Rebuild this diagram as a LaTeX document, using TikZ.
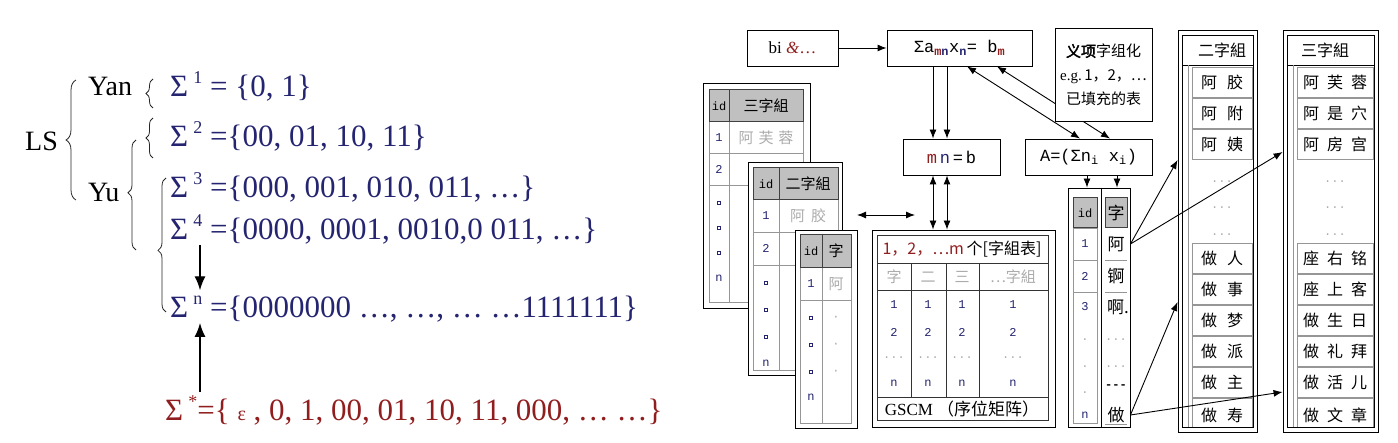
\documentclass[tikz,border=0pt]{standalone}
\usepackage{fontspec}
\setmainfont{Liberation Serif}
\newfontfamily\cjk{Noto Sans CJK SC}
\newfontfamily\cjkb[FakeBold=2.5]{Noto Sans CJK SC}
\newfontfamily\mono{Liberation Mono}
\usetikzlibrary{arrows.meta,decorations.pathreplacing,calc}
\definecolor{navy}{RGB}{36,36,112}
\definecolor{dred}{RGB}{145,30,30}
\definecolor{hdr}{RGB}{192,192,192}
\definecolor{cellb}{RGB}{150,150,150}
\definecolor{faint}{RGB}{172,172,172}
\newcommand\supx[1]{\raisebox{0.42em}{\fontsize{18}{18}\selectfont #1}}
\newcommand\sqmark[2]{\draw[navy,line width=0.8pt] (#1-1.8,#2-1.8) rectangle (#1+1.8,#2+1.8);}
\begin{document}
\begin{tikzpicture}[x=1pt,y=-1pt,
  big/.style={font=\fontsize{28}{30}\selectfont, inner sep=0pt, anchor=base west},
  sig/.style={font=\fontsize{31}{33}\selectfont, inner sep=0pt, anchor=base west},
  bigarr/.style={-{Latex[length=14pt,width=11pt]}, line width=1.4pt},
  brc/.style={decorate, line width=0.8pt, draw=black!85},
  box/.style={draw, line width=0.9pt, fill=white, inner sep=0pt},
  arr/.style={-{Latex[length=9pt,width=7pt]}, line width=0.9pt},
  darr/.style={{Latex[length=9pt,width=7pt]}-{Latex[length=9pt,width=7pt]}, line width=0.9pt},
  eq/.style={font=\mono\fontsize{17}{19}\selectfont},
  tb/.style={font=\mono\fontsize{12}{14}\selectfont, inner sep=0pt},
  cj/.style={font=\cjk\fontsize{15}{17}\selectfont, inner sep=0pt},
  cl/.style={font=\cjk\fontsize{16}{18}\selectfont, inner sep=0pt},
  gl/.style={draw=cellb, line width=0.8pt},
  hd/.style={fill=hdr, draw=black!75, line width=1pt},
]
\useasboundingbox (0,0) rectangle (1398,443);

% ---------------- left part ----------------
\node[big] (ls) at (25,151) {LS};
\node[big] (yan) at (88,96) {Yan};
\node[big] (yu) at (88,202) {Yu};
\node[sig,text=navy] (s1) at (170,97) {Σ\,\supx{1} = \{0, 1\}};
\node[sig,text=navy] (s2) at (170,147) {Σ\,\supx{2} =\{00, 01, 10, 11\}};
\node[sig,text=navy] (s3) at (170,198) {Σ\,\supx{3} =\{000, 001, 010, 011, …\}};
\node[sig,text=navy] (s4) at (170,240) {Σ\,\supx{4} =\{0000, 0001, 0010,0 011, …\}};
\node[sig,text=navy] (sn) at (170,318) {Σ\,\supx{n} =\{0000000 …, …, … …1111111\}};
\node[sig,text=dred] (ss) at (165,421) {Σ\,\supx{*}=\{ {\fontsize{20}{20}\selectfont ε} , 0, 1, 00, 01, 10, 11, 000, … …\}};

\draw[brc, decoration={brace,amplitude=10pt}] (76,200) -- (76,80);
\draw[brc, decoration={brace,amplitude=7pt}] (153,108) -- (153,79);
\draw[brc, decoration={brace,amplitude=7pt}] (153,158) -- (153,118);
\draw[brc, decoration={brace,amplitude=8pt,aspect=0.52}] (136,250) -- (136,140);
\draw[brc, decoration={brace,amplitude=8pt,aspect=0.46}] (166,312) -- (166,178);

\coordinate (ax) at (200,0);
\draw[bigarr] (s4.south -| ax) -- ([yshift=6pt]sn.north -| ax);
\draw[bigarr] ([yshift=4pt]ss.north -| ax) -- (sn.south -| ax);

% ---------------- right part ----------------
\node[box, minimum width=91, minimum height=36, font=\fontsize{17}{19}\selectfont] (bi) at (792.5,48) {bi {\color{dred}\textit{\&}…}};
\node[box, minimum width=145, minimum height=36, eq] (sigma) at (959.5,48)
  {Σa\textsubscript{\textbf{\color{dred}m\color{navy}n}}x\textsubscript{\textbf{\color{navy}n}}= b\textsubscript{\textbf{\color{dred}m}}};
\node[box, minimum width=97, minimum height=36, eq] (mn) at (951.5,157) {{\color{dred}m}\,{\color{navy}n}\,=\,b};
\node[box, minimum width=127, minimum height=36, eq] (A) at (1088.5,157) {A=(Σn\textsubscript{i} x\textsubscript{i})};
\draw[arr] (bi.east) -- (sigma.west);

\coordinate (q1) at (967,0); \coordinate (q2) at (1080,0);
\coordinate (r1) at (997,0); \coordinate (r2) at (1110,0);
\draw[darr] (sigma.south -| q1) -- (A.north -| q2);
\draw[darr] (sigma.south -| r1) -- (A.north -| r2);
\node[box, minimum width=97, minimum height=93, align=center, font=\cjk\fontsize{15}{24}\selectfont] (yx) at (1103.5,75)
  {{\cjkb 义项}字组化\\{\rmfamily e.g.}\,1，2，…\\已填充的表};

\coordinate (p1) at (933,0); \coordinate (p2) at (947,0);
\draw[arr] (sigma.south -| p1) -- (mn.north -| p1);
\draw[arr] (sigma.south -| p2) -- (mn.north -| p2);

% table 1
\node[box, minimum width=107, minimum height=225] (t1) at (756.5,195.5) {};
\draw[gl] (709,90) rectangle (803,302);
\draw[hd] (709,90) rectangle (729,122); \draw[hd] (729,90) rectangle (803,122);
\draw[gl] (709,153) -- (803,153) (709,185) -- (803,185) (729,122) -- (729,302);
\node[tb] (t1id) at (719,106) {id};
\node[cj] (t1h) at (766,106) {三字組};
\node[tb,text=navy] (t1r1) at (719,138) {1};
\node[cj,text=faint] (t1c1) at (766,138) {阿\hspace{5pt}芙\hspace{5pt}蓉};
\node[tb,text=navy] (t1r2) at (719,169) {2};
\sqmark{719}{203} \sqmark{719}{228} \sqmark{719}{253}
\node[tb,text=navy] (t1rn) at (719,278) {n};

% table 2
\node[box, minimum width=94, minimum height=213] (t2) at (795,268.5) {};
\draw[gl] (753,168) rectangle (838,370);
\draw[hd] (753,168) rectangle (779,200); \draw[hd] (779,168) rectangle (838,200);
\draw[gl] (753,232) -- (838,232) (753,265) -- (838,265) (779,200) -- (779,370);
\node[tb] (t2id) at (766,184) {id};
\node[cj] (t2h) at (808,184) {二字組};
\node[tb,text=navy] (t2r1) at (766,216) {1};
\node[cj,text=faint] (t2c1) at (808,216) {阿\hspace{6pt}胶};
\node[tb,text=navy] (t2r2) at (766,248) {2};
\sqmark{766}{283} \sqmark{766}{310} \sqmark{766}{337}
\node[tb,text=navy] (t2rn) at (766,363) {n};

% table 3
\node[box, minimum width=62, minimum height=198] (t3) at (826,329) {};
\draw[gl] (800,235) rectangle (851,423);
\draw[hd] (800,235) rectangle (822,268); \draw[hd] (822,235) rectangle (851,268);
\draw[gl] (800,300) -- (851,300) (822,268) -- (822,423);
\node[tb] (t3id) at (811,251) {id};
\node[cj] (t3h) at (836,251) {字};
\node[tb,text=navy] (t3r1) at (811,284) {1};
\node[cj,text=faint] (t3c1) at (836,284) {阿};
\sqmark{811}{318} \sqmark{811}{345} \sqmark{811}{372}
\foreach \y [count=\i] in {318,345,372} \node[tb,text=faint] (t3d\i) at (836,\y) {·};
\node[tb,text=navy] (t3rn) at (811,397) {n};

% GSCM
\node[box, minimum width=183, minimum height=197] (gscm) at (963.5,328.5) {};
\draw[black!80, line width=0.8pt] (877,235) rectangle (1048,420);
\draw[black!80, line width=0.8pt] (877,263) -- (1048,263) (877,290) -- (1048,290) (877,397) -- (1048,397)
  (911,263) -- (911,397) (946,263) -- (946,397) (979,263) -- (979,397);
\node[cj,font=\cjk\fontsize{16}{18}\selectfont] (gh) at (962,249) {{\color{dred}1，2，…m}\,个[字組表]};
\node[cj,text=faint] (gc1) at (894,277) {字};
\node[cj,text=faint] (gc2) at (928,277) {二};
\node[cj,text=faint] (gc3) at (962,277) {三};
\node[cj,text=faint] (gc4) at (1013,277) {…字組};
\foreach \x [count=\i] in {894,928,962,1013} {
  \node[tb,text=navy] (ga\i) at (\x,305) {1};
  \node[tb,text=navy] (gb\i) at (\x,332) {2};
  \node[tb,text=faint] (gd\i) at (\x,358) {...};
  \node[tb,text=navy] (gn\i) at (\x,383) {n};
}
\node[font=\fontsize{17}{19}\selectfont, inner sep=0pt] (glab) at (962,409) {GSCM\ {\cjk （序位矩阵）}};

\draw[darr] (mn.south -| p1) -- (gscm.north -| p1);
\draw[darr] (mn.south -| p2) -- (gscm.north -| p2);
\coordinate (h1) at (857,215); \coordinate (h2) at (915,215);
\draw[darr] (h1) -- (h2);

% id / zi table
\node[box, minimum width=62, minimum height=239] (idz) at (1099,307.5) {};
\draw[line width=0.9pt] (1101,188) -- (1101,427);
\draw[hd] (1073,198) rectangle (1097,228);
\draw[hd] (1105,198) rectangle (1127,228);
\draw[gl] (1073,228) rectangle (1097,260) (1073,260) rectangle (1097,292) (1073,292) rectangle (1097,423);
\draw[gl] (1105,260) -- (1127,260) (1105,292) -- (1127,292) (1105,424) -- (1127,424);
\node[tb] (zid) at (1085,213) {id};
\node[cj,font=\cjk\fontsize{17}{19}\selectfont] (zh) at (1116,213) {字};
\node[tb,text=navy] (zr1) at (1085,244) {1};
\node[tb,text=navy] (zr2) at (1085,276) {2};
\node[tb,text=navy] (zr3) at (1085,307) {3};
\foreach \y [count=\i] in {340,367,393} \node[tb,text=faint] (zdot\i) at (1085,\y) {.};
\node[tb,text=navy] (zrn) at (1085,415) {n};
\node[cl,font=\cjk\fontsize{17}{19}\selectfont] (za) at (1116,244) {阿};
\node[cl,font=\cjk\fontsize{17}{19}\selectfont] (zb) at (1116,276) {锕};
\node[cl,font=\cjk\fontsize{17}{19}\selectfont] (zc) at (1118,307) {啊.};
\node[tb,text=faint] (zd1) at (1116,340) {...};
\node[tb,text=faint] (zd2) at (1116,367) {...};
\node[tb,font=\mono\bfseries\fontsize{12}{14}\selectfont] (zd3) at (1116,387) {---};
\node[cl,font=\cjk\fontsize{17}{19}\selectfont] (zz) at (1116,415) {做};

\coordinate (s1) at (1087,0); \coordinate (s2) at (1117,0);
\draw[arr] (A.south -| s1) -- (idz.north -| s1);
\draw[arr] (A.south -| s2) -- (idz.north -| s2);

% list of two-character words
\node[box, minimum width=79, minimum height=402] (list2) at (1217.5,231) {};
\draw[line width=0.8pt] (1182,35) rectangle (1253,427);
\draw[line width=0.8pt] (1182,65) -- (1253,65);
\draw[gl] (1188,65) -- (1188,427);
\node[cj,font=\cjk\fontsize{16}{18}\selectfont] (l2h) at (1222,50) {二字組};
\begin{scope}
\clip (1182,35) rectangle (1253,427);
\foreach \t in {67,98,129,243,274,305,336,367,398} \draw[gl] (1192,\t) rectangle (1252,\t+30);
\foreach \y/\a/\b [count=\i] in {82/阿/胶,113/阿/附,144/阿/姨,258/做/人,289/做/事,320/做/梦,351/做/派,382/做/主,415/做/寿}
  \node[cl] (lb\i) at (1222,\y) {\a\hspace{10pt}\b};
\end{scope}
\foreach \y [count=\i] in {182,208,235} \node[tb,text=faint] (ldt\i) at (1222,\y) {...};

% list of three-character words
\node[box, minimum width=95, minimum height=402] (list3) at (1330.5,231) {};
\draw[line width=0.8pt] (1287,35) rectangle (1374,427);
\draw[line width=0.8pt] (1287,65) -- (1374,65);
\draw[gl] (1293,65) -- (1293,427);
\node[cj,font=\cjk\fontsize{16}{18}\selectfont] (l3h) at (1325,50) {三字組};
\begin{scope}
\clip (1287,35) rectangle (1374,427);
\foreach \t in {67,98,129,243,274,305,336,367,398} \draw[gl] (1297,\t) rectangle (1373,\t+30);
\foreach \y/\a/\b/\c [count=\i] in {82/阿/芙/蓉,113/阿/是/穴,144/阿/房/宫,258/座/右/铭,289/座/上/客,320/做/生/日,351/做/礼/拜,382/做/活/儿,415/做/文/章}
  \node[cl] (lc\i) at (1335,\y) {\a\hspace{8pt}\b\hspace{8pt}\c};
\end{scope}
\foreach \y [count=\i] in {182,208,235} \node[tb,text=faint] (lct\i) at (1335,\y) {...};

% arrows from the characters to the word lists
\coordinate (e1) at (0,160); \coordinate (e2) at (0,152);
\coordinate (e3) at (0,302); \coordinate (e4) at (0,392);
\draw[arr] (idz.east |- za) -- (list2.west |- e1);
\draw[arr] (idz.east |- za) -- (list3.west |- e2);
\draw[arr] (idz.east |- zz) -- (list2.west |- e3);
\draw[arr] (idz.east |- zz) -- (list3.west |- e4);
\end{tikzpicture}
\end{document}
